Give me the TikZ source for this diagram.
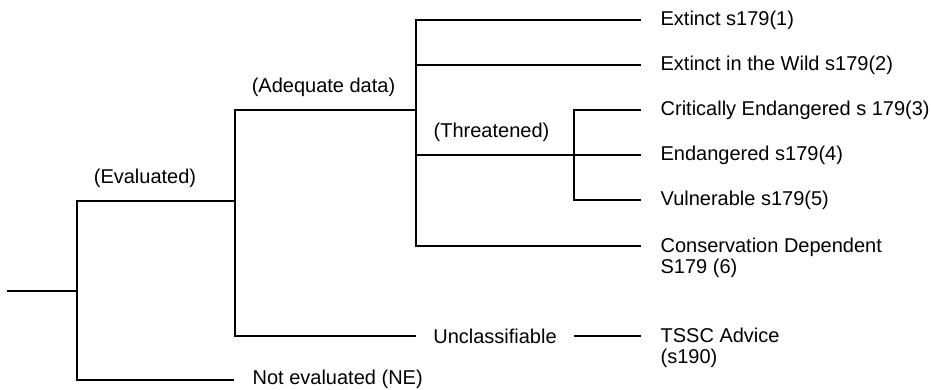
\documentclass[tikz,border=0pt]{standalone}
\usepackage{fontspec}
\setmainfont{Liberation Sans}
\newcommand{\lblfont}{\fontsize{20}{21}\selectfont}
\begin{document}
\begin{tikzpicture}[x=1pt,y=-1pt,line width=1.3pt,line cap=rect,
  lbl/.style={anchor=west,inner xsep=20pt,inner ysep=0pt,text height=12pt,text depth=2pt,font=\lblfont},
  lbltwo/.style={anchor=north west,inner xsep=20pt,inner ysep=0pt,align=left,font=\lblfont},
  midlbl/.style={inner xsep=17pt,inner ysep=0pt,text height=14pt,text depth=0pt,font=\lblfont},
  caption/.style={inner sep=0pt,font=\lblfont}]
\useasboundingbox (0,0) rectangle (931,389);
% junction coordinates
\coordinate (root) at (8,291);
\coordinate (ev) at (77,291);
\coordinate (evT) at (77,201);
\coordinate (evB) at (77,380);
\coordinate (adJ) at (235,201);
\coordinate (ad) at (235,110);
\coordinate (uncJ) at (235,336);
\coordinate (a0) at (416,20);
\coordinate (a1) at (416,110);
\coordinate (a2) at (416,65);
\coordinate (a3) at (416,155);
\coordinate (a5) at (416,246);
\coordinate (t1) at (574,110);
\coordinate (t3) at (574,200);
% nodes
\node[lbl] (n1) at (640,20) {Extinct s179(1)};
\node[lbl] (n2) at (640,65) {Extinct in the Wild s179(2)};
\node[lbl] (n3) at (640,110) {Critically Endangered s 179(3)};
\node[lbl] (n4) at (640,155) {Endangered s179(4)};
\node[lbl] (n5) at (640,200) {Vulnerable s179(5)};
\node[lbltwo] (n6) at (640,237) {Conservation Dependent\\S179 (6)};
\node[midlbl] (unc) at (495,336) {Unclassifiable};
\node[lbltwo] (tssc) at (640,327.5) {TSSC Advice\\(s190)};
\node[lbl,inner xsep=19pt] (ne) at (233,379) {Not evaluated (NE)};
\node[caption] (cev) at (145,178) {(Evaluated)};
\node[caption] (cad) at (323.5,87) {(Adequate data)};
\node[caption] (cth) at (491.5,132) {(Threatened)};
% connectors
\draw (root) -- (ev);
\draw (evT) -- (evB);
\draw (evT) -- (adJ);
\draw (evB) -- (evB -| ne.west);
\draw (ad) -- (uncJ);
\draw (ad) -- (a1);
\draw (a0) -- (a5);
\draw (a0) -- (a0 -| n1.west);
\draw (a2) -- (a2 -| n2.west);
\draw (a3) -- (a3 -| n4.west);
\draw (a5) -- (a5 -| n6.west);
\draw (t1) -- (t3);
\draw (t1) -- (t1 -| n3.west);
\draw (t3) -- (t3 -| n5.west);
\draw (uncJ) -- (unc.west);
\draw (unc.east) -- (unc.east -| tssc.west);
\end{tikzpicture}
\end{document}
